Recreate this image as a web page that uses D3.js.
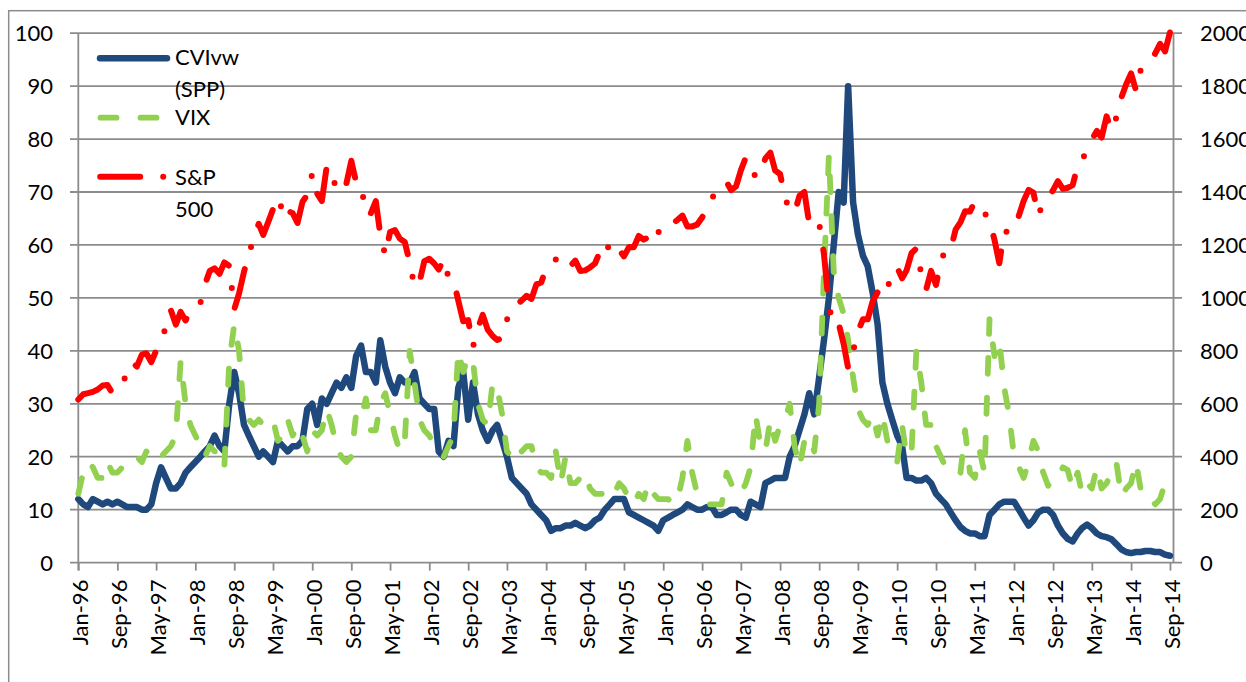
<!DOCTYPE html>
<html>
<head>
<meta charset="utf-8">
<script src="https://cdn.jsdelivr.net/npm/d3@7"></script>
<style>
    body { margin: 0; background: #ffffff; }
    svg text { font-family: Lato, "Open Sans", sans-serif; fill: #000000; }
</style>
</head>
<body>
<svg id="chart" width="1246" height="682"></svg>
<script>
// monthly readings, Jan-96 .. Sep-14 (225 months)
const cviValues = [
    12, 11, 10.5, 12, 11.5, 11, 11.5, 11, 11.5, 11, 10.5, 10.5,
    10.5, 10, 10, 11, 15, 18, 16, 14, 14, 15, 17, 18,
    19, 20, 21, 22, 24, 22, 21, 30, 36, 32, 26, 24,
    22, 20, 21, 20, 19, 23, 22, 21, 22, 22, 23, 29,
    30, 26, 31, 30, 32, 34, 33, 35, 33, 39, 41, 36,
    36, 34, 42, 37, 34, 32, 35, 34, 34, 36, 31, 30,
    29, 29, 21, 20, 23, 22, 33, 36, 27, 34, 28, 25,
    23, 25, 26, 23, 20, 16, 15, 14, 13, 11, 10, 9,
    8, 6, 6.5, 6.5, 7, 7, 7.5, 7, 6.5, 7, 8, 8.5,
    10, 11, 12, 12, 12, 9.5, 9, 8.5, 8, 7.5, 7, 6,
    8, 8.5, 9, 9.5, 10, 11, 10.5, 10, 10, 10.5, 10.5, 9,
    9, 9.5, 10, 10, 9, 8.5, 11.5, 11, 10.5, 15, 15.5, 16,
    16, 16, 20, 22, 25, 28, 32, 28, 35, 42, 50, 60,
    70, 68, 90, 68, 62, 58, 56, 51, 45, 34, 30, 27,
    24, 22, 16, 16, 15.5, 15.5, 16, 15, 13, 12, 11, 9.5,
    8, 6.7, 6, 5.5, 5.5, 5, 5, 9, 10, 11, 11.5, 11.5,
    11.5, 10, 8.5, 7, 8, 9.5, 10, 10, 9, 7, 5.5, 4.5,
    4, 5.5, 6.5, 7.2, 6.5, 5.5, 5, 4.8, 4.4, 3.5, 2.5, 2,
    1.8, 2, 2, 2.2, 2.2, 2, 2, 1.5, 1.3
];

const vixValues = [
    13, 17, 19, 18, 16, 16, 19, 17, 17, 18, 19, 20,
    20, 19, 21, 20, 19, 20, 21, 22, 24, 38, 30, 26,
    24, 22, 20, 22, 21, 21, 18, 38, 45, 40, 28, 27,
    26, 27, 26, 26, 27, 23, 24, 27, 24, 26, 24, 21,
    25, 24, 25, 29, 26, 22, 20, 19, 20, 28, 27, 31,
    25, 25, 30, 32, 28, 24, 21, 23, 40, 34, 27, 25,
    24, 22, 21, 20, 22, 24, 40, 36, 39, 38, 30, 27,
    26, 34, 33, 28, 21, 20, 22, 21, 22, 22, 18, 17,
    17, 16, 21, 15, 20, 15, 15, 16, 17, 14, 13, 13,
    13, 12, 13, 15, 14, 12, 11, 13, 12, 15, 13, 12,
    12, 12, 11, 12, 16, 23, 17, 13, 12, 11, 11, 11,
    11, 17, 15, 13, 13, 15, 18, 28, 22, 21, 27, 23,
    26, 27, 30, 22, 18, 23, 24, 21, 30, 55, 77, 55,
    50, 47, 42, 35, 29, 27, 26, 28, 24, 28, 23, 21,
    19, 26, 20, 21, 40, 34, 26, 26, 22, 20, 18, 17.5,
    18, 17, 25, 17, 16, 21, 17, 46, 39, 42, 33, 28,
    20, 18, 16, 19, 23, 21, 17, 14.5, 16, 16, 18, 17.5,
    14, 17, 13, 15, 14, 18, 14, 15, 17, 19, 12.5, 14,
    15, 19, 14, 14, 12, 11, 12, 15, 13
];

const spxValues = [
    616,
    636, 640, 645, 654, 669, 671, 640, 652, 687, 705, 757, 741,
    786, 791, 757, 801, 848, 885, 954, 899, 947, 915, 955, 970,
    980, 1049, 1102, 1112, 1091, 1134, 1121, 957, 1017, 1099, 1164, 1229,
    1280, 1238, 1286, 1335, 1302, 1373, 1329, 1320, 1283, 1363, 1389, 1469,
    1394, 1366, 1499, 1452, 1421, 1455, 1431, 1518, 1437, 1429, 1315, 1320,
    1366, 1240, 1160, 1249, 1256, 1224, 1211, 1134, 1041, 1060, 1139, 1148,
    1130, 1107, 1147, 1077, 1067, 990, 912, 916, 815, 886, 936, 880,
    856, 841, 848, 917, 964, 975, 990, 1008, 996, 1051, 1058, 1112,
    1131, 1145, 1126, 1107, 1121, 1141, 1102, 1104, 1115, 1130, 1174, 1212,
    1181, 1204, 1181, 1157, 1192, 1191, 1234, 1220, 1229, 1207, 1249, 1248,
    1280, 1281, 1295, 1311, 1270, 1270, 1277, 1304, 1336, 1378, 1401, 1418,
    1438, 1407, 1421, 1482, 1531, 1503, 1455, 1474, 1527, 1549, 1481, 1468,
    1379, 1331, 1323, 1386, 1400, 1280, 1267, 1283, 1165, 969, 896, 903,
    826, 735, 798, 873, 919, 919, 987, 1021, 1057, 1036, 1096, 1115,
    1074, 1104, 1169, 1187, 1089, 1031, 1102, 1049, 1141, 1183, 1181, 1258,
    1286, 1327, 1326, 1364, 1345, 1321, 1292, 1219, 1131, 1253, 1247, 1258,
    1312, 1366, 1408, 1398, 1310, 1362, 1379, 1407, 1441, 1412, 1416, 1426,
    1498, 1515, 1569, 1598, 1631, 1606, 1686, 1633, 1682, 1757, 1806, 1848,
    1783, 1859, 1872, 1884, 1924, 1960, 1931, 2003
];

const leftTicks = [0, 10, 20, 30, 40, 50, 60, 70, 80, 90, 100];
const rightTicks = [0, 200, 400, 600, 800, 1000, 1200, 1400, 1600, 1800, 2000];
const seriesNames = ["CVIvw", "(SPP)", "VIX", "S&P", "500"];

function main(){

    const svg = d3.select("#chart");
    const gridColor = "#8c8c8c";

    const months = d3.timeMonth.range(new Date(1996, 0, 1), new Date(2014, 9, 1));
    const tickDates = d3.timeMonth.range(new Date(1996, 0, 1), new Date(2014, 9, 1), 8);

    const xScale = d3.scaleTime()
        .domain([new Date(1996, 0, 1), new Date(2014, 8, 23)])
        .range([78.3, 1173.5]);

    const yLeft = d3.scaleLinear()
        .domain([0, 100])
        .range([562.6, 33.2]);

    const yRight = d3.scaleLinear()
        .domain([0, 2000])
        .range([562.6, 33.2]);

    // outer frame (runs off the picture on the right and bottom)
    svg.append("rect")
        .attr("x", 8.7)
        .attr("y", 10.7)
        .attr("width", 1300)
        .attr("height", 700)
        .attr("fill", "none")
        .attr("stroke", gridColor)
        .attr("stroke-width", 1.5);

    // gridlines
    svg.append("g")
        .selectAll("line")
        .data(leftTicks)
        .join("line")
        .attr("x1", 70)
        .attr("x2", 1182)
        .attr("y1", d => yLeft(d))
        .attr("y2", d => yLeft(d))
        .attr("stroke", gridColor)
        .attr("stroke-width", 1.8);

    // vertical axis lines
    svg.append("line")
        .attr("x1", xScale.range()[0]).attr("x2", xScale.range()[0])
        .attr("y1", yLeft(100)).attr("y2", yLeft(0) + 8)
        .attr("stroke", gridColor).attr("stroke-width", 1.8);
    svg.append("line")
        .attr("x1", xScale.range()[1]).attr("x2", xScale.range()[1])
        .attr("y1", yLeft(100)).attr("y2", yLeft(0))
        .attr("stroke", gridColor).attr("stroke-width", 1.8);

    // left axis labels
    svg.append("g")
        .selectAll("text")
        .data(leftTicks)
        .join("text")
        .attr("x", 53)
        .attr("y", d => yLeft(d))
        .attr("dy", "0.36em")
        .attr("text-anchor", "end")
        .attr("font-size", 22)
        .text(d => d);

    // right axis labels (the picture edge cuts the last digit, as in the original)
    svg.append("g")
        .selectAll("text")
        .data(rightTicks)
        .join("text")
        .attr("x", 1200)
        .attr("y", d => yRight(d))
        .attr("dy", "0.36em")
        .attr("text-anchor", "start")
        .attr("font-size", 22)
        .text(d => d);

    // x axis
    const xAxis = d3.axisBottom(xScale)
        .tickValues(tickDates)
        .tickFormat(d3.timeFormat("%b-%y"))
        .tickSize(8)
        .tickSizeOuter(0);

    const xg = svg.append("g")
        .attr("transform", "translate(0," + yLeft(0) + ")")
        .call(xAxis);
    xg.select(".domain").remove();
    xg.selectAll(".tick line")
        .attr("stroke", gridColor)
        .attr("stroke-width", 1.8);
    xg.selectAll(".tick text")
        .attr("transform", "rotate(-90)")
        .attr("text-anchor", "end")
        .attr("x", -17)
        .attr("y", 0)
        .attr("dy", "0.42em")
        .attr("font-size", 22)
        .attr("font-family", "Lato, 'Open Sans', sans-serif")
        .attr("fill", "#000");

    // series
    const cviLine = d3.line()
        .x((d, i) => xScale(months[i]))
        .y(d => yLeft(d));
    const spxLine = d3.line()
        .x((d, i) => xScale(months[i]))
        .y(d => yRight(d));

    svg.append("path")
        .datum(cviValues)
        .attr("d", cviLine)
        .attr("fill", "none")
        .attr("stroke", "#1f497d")
        .attr("stroke-width", 6.5)
        .attr("stroke-linejoin", "round")
        .attr("stroke-linecap", "round");

    svg.append("path")
        .datum(vixValues)
        .attr("d", cviLine)
        .attr("fill", "none")
        .attr("stroke", "#92d050")
        .attr("stroke-width", 5.8)
        .attr("stroke-dasharray", "16 24")
        .attr("stroke-linejoin", "round")
        .attr("stroke-linecap", "round");

    svg.append("path")
        .datum(spxValues)
        .attr("d", spxLine)
        .attr("fill", "none")
        .attr("stroke", "#ff0000")
        .attr("stroke-width", 6)
        .attr("stroke-dasharray", "40 23 0 23")
        .attr("stroke-linejoin", "round")
        .attr("stroke-linecap", "round");

    // legend
    const legend = svg.append("g");
    legend.append("line")
        .attr("x1", 100).attr("x2", 167).attr("y1", 58.3).attr("y2", 58.3)
        .attr("stroke", "#1f497d").attr("stroke-width", 6.5).attr("stroke-linecap", "round");
    legend.append("line")
        .attr("x1", 100.5).attr("x2", 167).attr("y1", 117.7).attr("y2", 117.7)
        .attr("stroke", "#92d050").attr("stroke-width", 5.8).attr("stroke-linecap", "round")
        .attr("stroke-dasharray", "16 24");
    legend.append("line")
        .attr("x1", 100.2).attr("x2", 167).attr("y1", 176.7).attr("y2", 176.7)
        .attr("stroke", "#ff0000").attr("stroke-width", 6).attr("stroke-linecap", "round")
        .attr("stroke-dasharray", "40 23 0 23");

    const labelY = [65, 97, 125, 185, 217];
    legend.selectAll("text")
        .data(seriesNames)
        .join("text")
        .attr("x", 175)
        .attr("y", (d, i) => labelY[i])
        .attr("font-size", 22)
        .text(d => d);
}

main();
</script>
</body>
</html>
